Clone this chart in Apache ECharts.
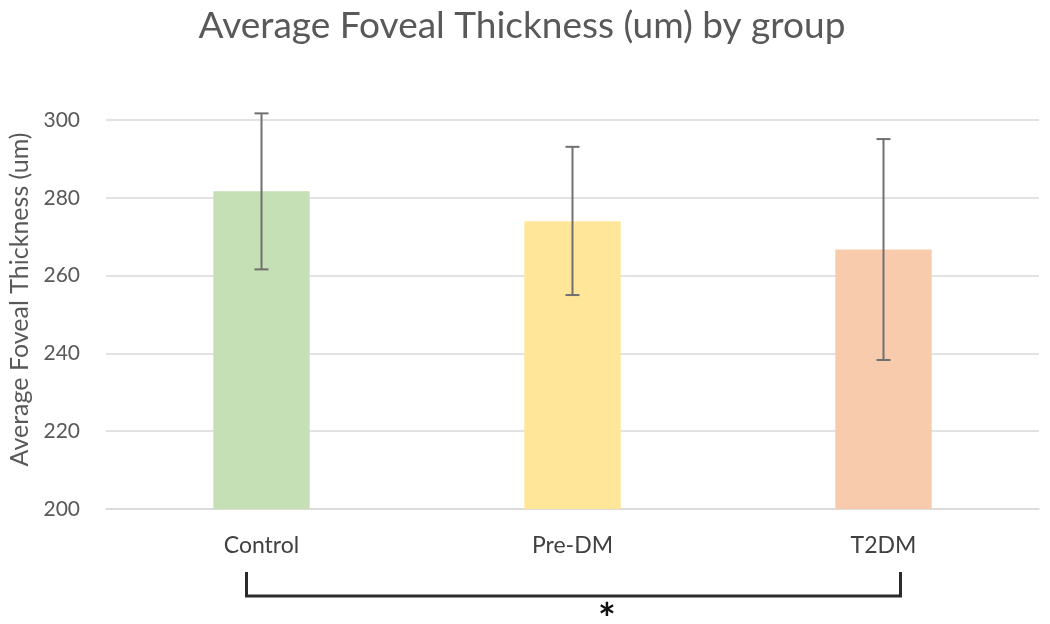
<!DOCTYPE html>
<html>
<head>
<meta charset="utf-8">
<script src="https://cdn.jsdelivr.net/npm/echarts@6/dist/echarts.min.js"></script>
<style>
  html, body { margin: 0; padding: 0; background: #fff; }
  #chart { width: 1050px; height: 624px; }
</style>
</head>
<body>
<div id="chart"></div>
<script>
// group means and error (sd)
const groups = ["Control", "Pre-DM", "T2DM"];
const means = [281.7, 274.0, 266.7];
const errLow = [261.6, 255.0, 238.3];
const errHigh = [301.7, 293.1, 295.1];
const barColors = ["#c5e0b4", "#ffe699", "#f8cbad"];
const yTicks = [200, 220, 240, 260, 280, 300];

const font = "Lato, 'Open Sans', sans-serif";
const myChart = echarts.init(document.getElementById("chart"));

myChart.setOption({
  animation: false,
  textStyle: { fontFamily: font },
  title: {
    text: "Average Foveal Thickness (um) by group",
    left: 517, top: 3, textAlign: "center",
    textStyle: { fontFamily: font, fontSize: 37, fontWeight: "normal", color: "#595959" }
  },
  grid: { left: 106, right: 11, top: 120, bottom: 115, outerBoundsMode: "none" },
  xAxis: {
    type: "category",
    data: groups,
    axisLine: { lineStyle: { color: "#d9d9d9", width: 1.5 } },
    axisTick: { show: false },
    axisLabel: { color: "#404040", fontSize: 23, margin: 25, fontFamily: font }
  },
  yAxis: {
    type: "value",
    min: yTicks[0], max: yTicks[yTicks.length - 1], interval: 20,
    name: "Average Foveal Thickness (um)",
    nameLocation: "middle",
    nameGap: 74,
    nameTextStyle: { color: "#595959", fontSize: 25, fontFamily: font, padding: [0, 0, 0, 30] },
    axisLine: { show: false },
    axisTick: { show: false },
    axisLabel: { color: "#595959", fontSize: 21, margin: 26, fontFamily: font },
    splitLine: { lineStyle: { color: "#d9d9d9", width: 1.5 } }
  },
  series: [
    {
      type: "bar",
      barWidth: "31%",
      data: means.map((v, i) => ({ value: v, itemStyle: { color: barColors[i] } }))
    },
    {
      type: "custom",
      z: 5,
      data: groups.map((g, i) => [i, errLow[i], errHigh[i]]),
      renderItem: function (params, api) {
        const lo = api.coord([api.value(0), api.value(1)]);
        const hi = api.coord([api.value(0), api.value(2)]);
        const half = 7;
        const style = { stroke: "#707070", lineWidth: 2 };
        return {
          type: "group",
          children: [
            { type: "line", shape: { x1: hi[0], y1: hi[1], x2: lo[0], y2: lo[1] }, style },
            { type: "line", shape: { x1: hi[0] - half, y1: hi[1], x2: hi[0] + half, y2: hi[1] }, style },
            { type: "line", shape: { x1: lo[0] - half, y1: lo[1], x2: lo[0] + half, y2: lo[1] }, style }
          ]
        };
      }
    }
  ]
});

// significance bracket between Control and T2DM
const pA = myChart.convertToPixel({ xAxisIndex: 0 }, groups[0]);
const pB = myChart.convertToPixel({ xAxisIndex: 0 }, groups[2]);
const x1 = pA - 15, x2 = pB + 17;
const yTop = 572, yBot = 596;
myChart.setOption({
  graphic: [
    {
      type: "polyline",
      shape: { points: [[x1, yTop], [x1, yBot], [x2, yBot], [x2, yTop]] },
      style: { stroke: "#2b2b2b", lineWidth: 3, fill: null }
    },
    {
      type: "text",
      x: x1 + 0.551 * (x2 - x1), y: 620,
      style: { text: "*", font: "bold 42px " + font, fill: "#111", textAlign: "center", textVerticalAlign: "middle" }
    }
  ]
});
</script>
</body>
</html>
